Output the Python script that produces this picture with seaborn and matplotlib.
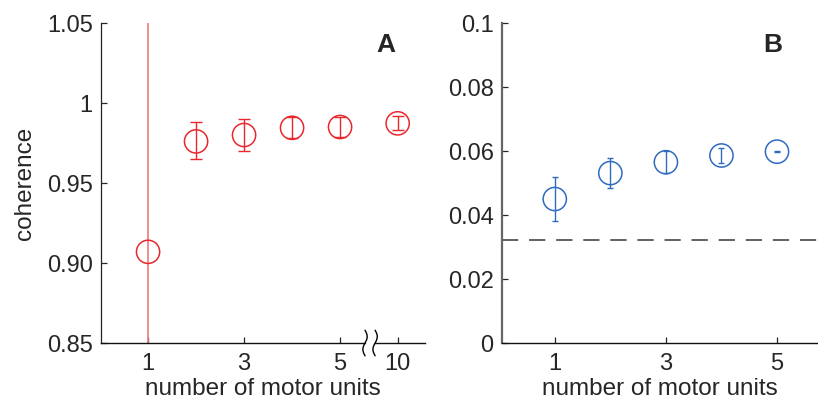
import numpy as np
import matplotlib
matplotlib.use("Agg")
import matplotlib.pyplot as plt
import matplotlib.transforms as mtransforms
import seaborn as sns
import pandas as pd

# ---- data ----
units_a = [1, 2, 3, 4, 5, 10]
pos_a = [1, 2, 3, 4, 5, 6.2]          # axis position (broken axis for 10)
coh_a = [0.907, 0.976, 0.980, 0.9845, 0.985, 0.9873]
lo_a = [0.80, 0.965, 0.970, 0.978, 0.9785, 0.983]
hi_a = [1.10, 0.9883, 0.9898, 0.991, 0.9915, 0.992]
yticks_a = [0.85, 0.90, 0.95, 1.0, 1.05]
yticklabels_a = ["0.85", "0.90", "0.95", "1", "1.05"]
xticks_a = [1, 3, 5, 6.2]
xticklabels_a = ["1", "3", "5", "10"]

units_b = [1, 2, 3, 4, 5]
coh_b = [0.045, 0.0531, 0.0565, 0.0586, 0.0598]
lo_b = [0.038, 0.0483, 0.0532, 0.0561, 0.0597]
hi_b = [0.0519, 0.0577, 0.0600, 0.0610, 0.0599]
baseline_b = 0.0322
yticks_b = [0, 0.02, 0.04, 0.06, 0.08, 0.1]
yticklabels_b = ["0", "0.02", "0.04", "0.06", "0.08", "0.1"]
xticks_b = [1, 3, 5]

RED = "#e8282c"
RED_LIGHT = "#f07a7a"
BLUE = "#2f6bbf"

sns.set_style("ticks")
plt.rcParams["font.family"] = ["Liberation Sans", "DejaVu Sans"]
FS_TICK = 17
FS_LAB = 17.5

fig = plt.figure(figsize=(8.18, 4.01), dpi=100)
axA = fig.add_axes([0.1235, 0.1446, 0.3961, 0.798])
axB = fig.add_axes([0.6137, 0.1446, 0.3851, 0.798])

dfa = pd.DataFrame({"pos": pos_a, "coh": coh_a})
dfb = pd.DataFrame({"units": units_b, "coh": coh_b})

# ---- Panel A ----
ea = np.array([np.array(coh_a) - np.array(lo_a), np.array(hi_a) - np.array(coh_a)])
axA.errorbar(pos_a[0], coh_a[0], yerr=ea[:, :1], fmt="none", ecolor=RED_LIGHT,
             elinewidth=1.2, capsize=0, zorder=2)
axA.errorbar(pos_a[1:], coh_a[1:], yerr=ea[:, 1:], fmt="none", ecolor=RED,
             elinewidth=1.0, capsize=4, capthick=1.0, zorder=2)
sns.scatterplot(data=dfa, x="pos", y="coh", ax=axA, marker="o", s=280,
                facecolor="none", edgecolor=RED, linewidth=1.1, zorder=3,
                legend=False)
axA.set_xlim(0.02, 6.77)
axA.set_ylim(0.85, 1.05)
axA.set_yticks(yticks_a)
axA.set_yticklabels(yticklabels_a)
axA.set_xticks(xticks_a)
axA.set_xticklabels(xticklabels_a)
axA.set_xlabel("number of motor units", fontsize=FS_LAB, labelpad=2)
axA.set_ylabel("coherence", fontsize=FS_LAB, labelpad=8)
axA.text(0.88, 0.93, "A", transform=axA.transAxes, fontsize=19,
         fontweight="bold", ha="center", va="center")

# axis break marks
trans = mtransforms.blended_transform_factory(axA.transData, axA.transAxes)
axA.fill_between([5.55, 5.72], -0.01, 0.01, transform=trans, color="white",
                 zorder=5, clip_on=False, lw=0)
t = np.linspace(-1, 1, 50)
for x0 in (5.52, 5.73):
    axA.plot(x0 + 0.045 * np.sin(np.pi * t), 0.04 * t, transform=trans,
             color="black", lw=1.0, clip_on=False, zorder=6)

# ---- Panel B ----
eb = np.array([np.array(coh_b) - np.array(lo_b), np.array(hi_b) - np.array(coh_b)])
axB.errorbar(units_b, coh_b, yerr=eb, fmt="none", ecolor=BLUE,
             elinewidth=1.0, capsize=2.5, capthick=1.0, zorder=2)
sns.scatterplot(data=dfb, x="units", y="coh", ax=axB, marker="o", s=280,
                facecolor="none", edgecolor=BLUE, linewidth=1.1, zorder=3,
                legend=False)
axB.axhline(baseline_b, color="#555555", lw=1.3, dashes=(9, 6), zorder=1)
axB.set_xlim(0.05, 5.72)
axB.set_ylim(0, 0.1)
axB.set_yticks(yticks_b)
axB.set_yticklabels(yticklabels_b)
axB.set_xticks(xticks_b)
axB.set_xlabel("number of motor units", fontsize=FS_LAB, labelpad=2)
axB.set_ylabel("")
axB.text(0.86, 0.93, "B", transform=axB.transAxes, fontsize=19,
         fontweight="bold", ha="center", va="center")

for ax in (axA, axB):
    sns.despine(ax=ax)
    ax.tick_params(direction="in", length=4, labelsize=FS_TICK, width=0.9)
    ax.tick_params(axis="y", pad=6)
    ax.tick_params(axis="x", pad=7)
    ax.spines["bottom"].set_linewidth(1.0)
    ax.spines["bottom"].set_color("#111111")
axA.spines["left"].set_color("#222222")
axA.spines["left"].set_linewidth(0.9)
axB.spines["left"].set_color("#666666")
axB.spines["left"].set_linewidth(1.6)

fig.savefig("out.png", dpi=100)
